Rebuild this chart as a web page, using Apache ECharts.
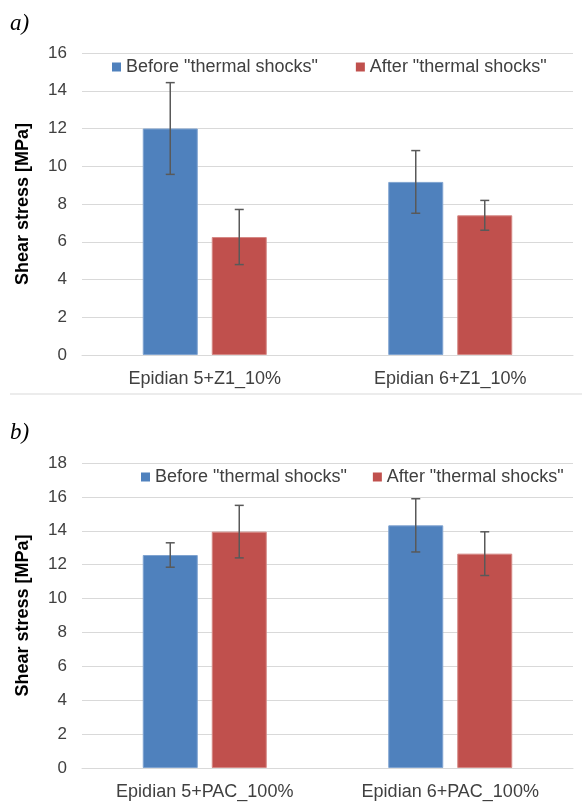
<!DOCTYPE html>
<html>
<head>
<meta charset="utf-8">
<script src="https://cdn.jsdelivr.net/npm/echarts@6/dist/echarts.min.js"></script>
<style>
  html, body { margin: 0; padding: 0; background: #fff; }
  #chart { width: 582px; height: 803px; }
</style>
</head>
<body>
<div id="chart"></div>
<script>
// panel a)
const categoriesA = ['Epidian 5+Z1_10%', 'Epidian 6+Z1_10%'];
const beforeA = [12.0, 9.17];
const beforeErrA = [2.43, 1.66];
const afterA = [6.25, 7.4];
const afterErrA = [1.46, 0.79];
const yMaxA = 16;

// panel b)
const categoriesB = ['Epidian 5+PAC_100%', 'Epidian 6+PAC_100%'];
const beforeB = [12.57, 14.32];
const beforeErrB = [0.72, 1.57];
const afterB = [13.95, 12.65];
const afterErrB = [1.55, 1.29];
const yMaxB = 18;

const seriesNames = ['Before "thermal shocks"', 'After "thermal shocks"'];
const tickStep = 2;

const FONT = "'Liberation Sans', Arial, sans-serif";
const BLUE = '#4F81BD';
const RED = '#C0504D';
const BAR_W = 55;
const BAR_GAP = 14;

let myChart = echarts.init(document.getElementById('chart'));

// error bar drawn around the bar (side = -1 for left bar, +1 for right bar)
function errorBars(name, vals, errs, axisIdx, side) {
    return {
        name: name + ' err',
        type: 'custom',
        xAxisIndex: axisIdx,
        yAxisIndex: axisIdx,
        z: 5,
        silent: true,
        data: vals.map((v, i) => [i, v, errs[i]]),
        renderItem: function (params, api) {
            const dx = side * (BAR_W + BAR_GAP) / 2;
            const hi = api.coord([api.value(0), api.value(1) + api.value(2)]);
            const lo = api.coord([api.value(0), api.value(1) - api.value(2)]);
            const x = hi[0] + dx;
            const style = { stroke: '#595959', lineWidth: 1.5 };
            return {
                type: 'group',
                children: [
                    { type: 'line', shape: { x1: x, y1: hi[1], x2: x, y2: lo[1] }, style: style },
                    { type: 'line', shape: { x1: x - 4.5, y1: hi[1], x2: x + 4.5, y2: hi[1] }, style: style },
                    { type: 'line', shape: { x1: x - 4.5, y1: lo[1], x2: x + 4.5, y2: lo[1] }, style: style }
                ]
            };
        }
    };
}

function xAxisOf(cats, idx) {
    return {
        type: 'category',
        gridIndex: idx,
        data: cats,
        axisTick: { show: false },
        axisLine: { lineStyle: { color: '#d9d9d9', width: 1 } },
        axisLabel: { color: '#404040', fontSize: 18, fontFamily: FONT, margin: 15 }
    };
}

function yAxisOf(max, idx) {
    return {
        type: 'value',
        gridIndex: idx,
        min: 0,
        max: max,
        interval: tickStep,
        name: 'Shear stress [MPa]',
        nameLocation: 'middle',
        nameRotate: 90,
        nameGap: 50,
        nameTextStyle: { color: '#000', fontSize: 18, fontWeight: 'bold', fontFamily: FONT },
        axisLine: { show: false },
        axisTick: { show: false },
        axisLabel: { color: '#404040', fontSize: 17, fontFamily: FONT, margin: 15 },
        splitLine: { lineStyle: { color: '#d9d9d9', width: 1 } }
    };
}

function barOf(name, vals, idx, color, border) {
    return {
        name: name,
        type: 'bar',
        xAxisIndex: idx,
        yAxisIndex: idx,
        barWidth: BAR_W,
        barGap: (BAR_GAP / BAR_W * 100) + '%',
        itemStyle: { color: color, borderColor: border, borderWidth: 1 },
        data: vals
    };
}

function legendOf(left, top, gap) {
    return {
        data: seriesNames,
        left: left,
        top: top,
        padding: 0,
        itemGap: gap,
        itemWidth: 9,
        itemHeight: 9,
        icon: 'rect',
        itemStyle: { borderWidth: 0 },
        textStyle: { color: '#404040', fontSize: 18, fontFamily: FONT }
    };
}

myChart.setOption({
    animation: false,
    backgroundColor: '#fff',
    legend: [
        legendOf(112, 58, 38),
        legendOf(141, 468, 26)
    ],
    grid: [
        { left: 82, top: 53, width: 491, height: 302 },
        { left: 82, top: 463, width: 491, height: 305 }
    ],
    xAxis: [xAxisOf(categoriesA, 0), xAxisOf(categoriesB, 1)],
    yAxis: [yAxisOf(yMaxA, 0), yAxisOf(yMaxB, 1)],
    graphic: [
        { type: 'text', left: 10, top: 12, style: { text: 'a)', font: 'italic 23px "Liberation Serif", serif', fill: '#000' } },
        { type: 'text', left: 10, top: 421, style: { text: 'b)', font: 'italic 23px "Liberation Serif", serif', fill: '#000' } },
        { type: 'line', shape: { x1: 10, y1: 394, x2: 582, y2: 394 }, style: { stroke: '#d9d9d9', lineWidth: 1 } }
    ],
    series: [
        barOf(seriesNames[0], beforeA, 0, BLUE, '#7fa3d0'),
        barOf(seriesNames[1], afterA, 0, RED, '#d58885'),
        errorBars(seriesNames[0], beforeA, beforeErrA, 0, -1),
        errorBars(seriesNames[1], afterA, afterErrA, 0, 1),
        barOf(seriesNames[0], beforeB, 1, BLUE, '#7fa3d0'),
        barOf(seriesNames[1], afterB, 1, RED, '#d58885'),
        errorBars(seriesNames[0], beforeB, beforeErrB, 1, -1),
        errorBars(seriesNames[1], afterB, afterErrB, 1, 1)
    ]
});
</script>
</body>
</html>
